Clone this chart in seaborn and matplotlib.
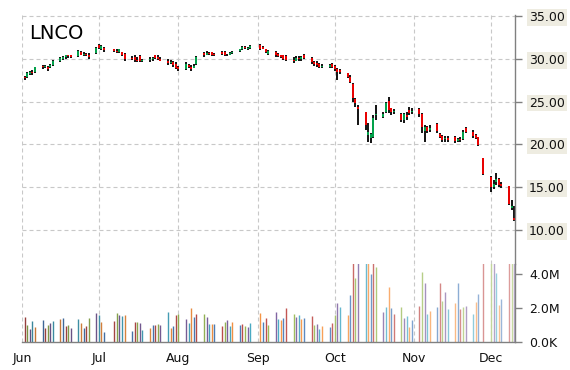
import numpy as np
import pandas as pd
import matplotlib
matplotlib.use('Agg')
import matplotlib.pyplot as plt
import matplotlib.dates as mdates
from matplotlib.ticker import FuncFormatter
from matplotlib.colors import to_rgb
import seaborn as sns

# --- data: LNCO daily prices, Jun - Dec 2014 ---
holidays = ['2014-07-04', '2014-09-01', '2014-11-27']
dates = pd.bdate_range('2014-06-02', '2014-12-10')
dates = dates[~dates.isin(pd.to_datetime(holidays))]

opens = [27.9, 27.9, 28.2, 28.5, 28.4, 29.2, 29.0, 29.1, 29.0, 29.3, 29.7, 30.0, 30.2, 30.4, 30.4, 30.3, 30.8, 30.5, 30.6, 30.4, 30.7,
         31.6, 31.1, 31.3, 31.1, 30.9, 30.8, 30.8, 30.6, 30.1, 30.2, 29.9, 30.3, 29.7, 29.9, 30.0, 30.4, 30.2, 30.0, 29.8, 29.5, 29.6, 29.4,
         29.0, 28.8, 29.3, 29.0, 28.9, 29.4, 30.7, 30.5, 30.7, 30.8, 30.6, 30.8, 30.8, 30.5, 30.5, 30.7, 30.9, 31.1, 31.4, 31.1, 31.3,
         31.6, 31.4, 31.1, 30.6, 30.8, 30.6, 30.4, 30.4, 30.3, 29.9, 29.8, 30.1, 30.0, 30.5, 30.1, 29.6, 29.5, 29.4, 29.0, 29.1, 29.4,
         29.2, 28.8, 28.7, 28.3, 27.9, 27.1, 25.3, 24.4, 23.8, 21.1, 20.8, 20.9, 23.4, 23.2, 23.8, 25.1, 24.2, 23.8, 23.6, 22.8, 23.4, 24.0, 23.8,
         24.1, 23.6, 21.6, 22.0, 21.7, 22.4, 21.2, 21.0, 20.6, 20.8, 20.9, 20.4, 20.6, 20.6, 21.9, 21.4, 21.1, 20.9, 18.4,
         16.2, 15.0, 15.6, 16.0, 15.4, 15.1, 12.6, 11.4]
highs = [28.0, 28.4, 28.6, 28.7, 29.1, 29.3, 29.3, 29.2, 29.4, 29.9, 30.2, 30.3, 30.5, 30.5, 30.4, 31.0, 30.9, 30.8, 30.7, 30.7, 31.4,
         31.7, 31.6, 31.4, 31.2, 31.1, 31.2, 30.8, 30.7, 30.3, 30.4, 30.2, 30.5, 30.0, 30.2, 30.2, 30.5, 30.4, 30.2, 30.0, 29.9, 29.8, 29.6,
         29.2, 29.6, 29.4, 29.3, 29.4, 30.3, 30.8, 30.9, 30.8, 30.8, 30.7, 30.9, 30.9, 30.6, 30.8, 30.9, 31.2, 31.5, 31.5, 31.4, 31.6,
         31.7, 31.5, 31.2, 31.0, 30.9, 30.7, 30.5, 30.5, 30.4, 30.2, 30.3, 30.3, 30.3, 30.6, 30.2, 29.7, 29.7, 29.5, 29.4, 29.4, 29.5,
         29.3, 28.9, 28.8, 28.3, 28.1, 27.2, 25.4, 24.6, 23.8, 22.5, 21.3, 23.4, 24.6, 23.8, 25.0, 25.5, 24.3, 24.1, 23.7, 23.7, 23.8, 24.4, 24.2,
         24.3, 23.7, 22.3, 22.2, 22.3, 22.5, 21.3, 21.1, 21.0, 21.0, 21.0, 20.7, 20.9, 21.7, 22.0, 21.7, 21.2, 20.9, 18.4,
         16.3, 15.8, 16.7, 16.1, 15.6, 15.1, 13.5, 12.8]
lows = [27.5, 27.8, 28.1, 28.1, 28.3, 28.8, 28.9, 28.6, 28.9, 29.2, 29.6, 29.9, 30.0, 30.1, 30.1, 30.2, 30.4, 30.3, 30.3, 30.0, 30.6,
        31.1, 31.0, 30.8, 30.8, 30.7, 30.7, 30.3, 29.7, 29.9, 29.6, 29.6, 29.6, 29.6, 29.6, 29.8, 30.0, 29.9, 29.7, 29.3, 29.4, 29.1, 28.8,
        28.6, 28.7, 28.9, 28.6, 28.9, 29.3, 30.2, 30.4, 30.5, 30.3, 30.3, 30.4, 30.3, 30.3, 30.5, 30.6, 30.8, 31.0, 31.1, 31.0, 31.1,
        31.0, 31.1, 30.7, 30.5, 30.2, 30.2, 30.1, 29.9, 29.7, 29.5, 29.7, 29.8, 29.8, 30.0, 29.4, 29.2, 29.1, 28.9, 28.9, 28.9, 28.9,
        28.6, 27.5, 28.2, 27.8, 27.2, 25.0, 24.4, 22.3, 21.7, 20.3, 20.2, 20.7, 22.9, 23.1, 23.7, 23.7, 23.4, 23.5, 22.6, 22.5, 22.9, 23.4, 23.5,
        23.2, 21.3, 20.3, 21.3, 21.5, 21.3, 20.7, 20.3, 20.3, 20.3, 20.2, 20.3, 20.3, 20.5, 21.3, 20.7, 20.6, 19.8, 16.4,
        14.4, 14.8, 15.3, 15.0, 14.9, 12.9, 12.3, 11.1]
closes = [27.7, 28.3, 28.5, 28.3, 29.0, 29.0, 29.2, 28.8, 29.3, 29.8, 30.1, 30.2, 30.4, 30.3, 30.2, 30.9, 30.5, 30.6, 30.4, 30.2, 31.3,
          31.3, 31.5, 31.0, 30.9, 30.8, 31.1, 30.5, 30.0, 30.0, 29.9, 29.8, 29.8, 29.9, 30.0, 30.1, 30.1, 30.0, 29.8, 29.5, 29.6, 29.3, 28.9,
          28.8, 29.4, 29.0, 28.8, 29.2, 30.2, 30.4, 30.7, 30.6, 30.5, 30.4, 30.6, 30.5, 30.4, 30.7, 30.8, 31.1, 31.4, 31.3, 31.3, 31.5,
          31.2, 31.2, 30.8, 30.9, 30.4, 30.3, 30.2, 30.0, 29.9, 29.7, 30.1, 30.0, 30.2, 30.1, 29.6, 29.4, 29.3, 29.0, 29.2, 29.3, 29.1,
          28.8, 28.5, 28.4, 27.9, 27.3, 25.4, 24.8, 24.1, 22.3, 21.4, 21.2, 23.1, 23.6, 23.6, 24.8, 24.0, 23.8, 23.9, 22.9, 23.5, 23.2, 23.7, 23.9,
          23.6, 22.0, 22.0, 21.6, 21.9, 21.6, 20.9, 20.5, 20.8, 20.5, 20.4, 20.6, 20.5, 21.5, 21.5, 21.0, 20.8, 19.9, 16.5,
          15.0, 15.4, 16.0, 15.3, 15.1, 13.0, 12.8, 11.2]
# volume in millions of shares
volumes = [1.49, 1.0, 0.76, 1.24, 0.9, 1.29, 0.8, 1.0, 1.14, 1.24, 1.35, 1.41, 0.94, 1.0, 0.82, 1.35, 1.12, 0.82, 0.94, 1.41, 1.71,
           1.59, 1.18, 0.59, 1.24, 1.71, 1.59, 1.53, 1.59, 0.65, 1.18, 1.18, 1.12, 0.71, 0.82, 1.0, 1.0, 1.06, 1.0, 1.76, 0.82, 0.94, 1.59,
           1.65, 1.35, 1.12, 2.0, 1.47, 1.65, 1.65, 1.47, 1.06, 1.06, 1.06, 0.94, 1.18, 1.29, 0.94, 1.18, 1.0, 1.06, 0.94, 0.88, 1.12,
           1.71, 1.18, 1.41, 1.0, 1.76, 1.35, 1.29, 1.39, 2.0, 1.65, 1.47, 1.59, 1.35, 1.41, 1.53, 1.0, 1.06, 0.76, 0.94, 0.88, 1.12,
           1.59, 2.29, 2.06, 1.59, 2.76, 5.2, 3.76, 5.0, 5.5, 6.0, 4.0, 5.1, 4.4, 1.76, 2.06, 3.24, 2.0, 1.65, 2.06, 1.41, 1.53, 0.88, 1.29,
           2.12, 4.12, 3.47, 1.65, 1.82, 2.06, 3.47, 2.41, 2.94, 1.94, 2.29, 3.47, 1.94, 2.06, 2.12, 1.65, 2.35, 2.84, 5.0,
           5.3, 5.0, 4.06, 2.18, 2.53, 5.5, 6.2, 5.8]

df = pd.DataFrame({'Date': dates, 'Open': opens, 'High': highs, 'Low': lows,
                   'Close': closes, 'Volume': volumes})

# --- styling ---
sns.set_style('white')
plt.rcParams['font.family'] = ['DejaVu Sans']
grid_kw = dict(color='#c8c8c8', linewidth=0.8, dashes=(3.6, 2.7))
palette = ['#C0504D', '#9BBB59', '#8064A2', '#4BACC6', '#F79646', '#4F81BD']

def shade(c, t):
    # darker early in the series, paler towards the end
    r = np.array(to_rgb(c))
    if t < 0.5:
        return tuple(r * (1 - (0.5 - t) * 0.45))
    return tuple(r + (1 - r) * min(1.0, (t - 0.5) * 1.5) * 0.6)

n = len(df)
vol_colors = [shade(palette[i % len(palette)], i / (n - 1)) for i in range(n)]

x = mdates.date2num(df['Date'])
up = df['Close'] >= df['Open']
body_colors = np.where(up, '#00B050', '#FF0000')

fig = plt.figure(figsize=(5.7, 3.7), dpi=100)
ax = fig.add_axes([22 / 570, 1 - 264 / 370, 493 / 570, 249 / 370])
axv = fig.add_axes([22 / 570, 1 - 342 / 370, 493 / 570, 78 / 370], sharex=ax)
for a in (ax, axv):
    a.set_facecolor('none')

# candlesticks
ax.vlines(x, df['Low'], df['High'], color='black', linewidth=1.3)
ax.vlines(x, df['Open'], df['Close'], colors=body_colors, linewidth=1.3)

# volume bars
axv.vlines(x, 0, df['Volume'], colors=vol_colors, linewidth=1.0)

ax.set_xlim(mdates.date2num(pd.Timestamp('2014-06-01')),
            mdates.date2num(pd.Timestamp('2014-12-10')) + 0.3)
ax.set_ylim(35 - 248 / 8.56, 35 + 1 / 8.56)
axv.set_ylim(0, 78 / 17)

# price axis
ax.yaxis.tick_right()
ax.set_yticks([10, 15, 20, 25, 30, 35])
ax.yaxis.set_major_formatter(FuncFormatter(lambda v, p: f'{v:.2f}'))
ax.tick_params(axis='y', direction='out', length=5, width=1, color='#808080',
               labelsize=9, pad=5, labelcolor='#111111')
ax.tick_params(axis='x', bottom=False, labelbottom=False)
ax.grid(True, axis='both', **grid_kw)

# volume axis
axv.yaxis.tick_right()
axv.set_yticks([0, 2, 4])
axv.yaxis.set_major_formatter(FuncFormatter(lambda v, p: '0.0K' if v == 0 else f'{v:.1f}M'))
axv.tick_params(axis='y', direction='out', length=5, width=1, color='#808080',
                labelsize=9, pad=5, labelcolor='#111111')
axv.xaxis.set_major_locator(mdates.MonthLocator())
axv.xaxis.set_major_formatter(mdates.DateFormatter('%b'))
axv.tick_params(axis='x', direction='out', length=5, width=1, color='#808080',
                labelsize=9, pad=2, labelcolor='#111111')
axv.grid(True, axis='x', **grid_kw)

for a in (ax, axv):
    for s in ('top', 'left', 'bottom', 'right'):
        a.spines[s].set_visible(False)
    a.spines['right'].set_visible(True)
    a.spines['right'].set_color('#808080')
    a.spines['right'].set_linewidth(1.0)
axv.spines['bottom'].set_visible(True)
axv.spines['bottom'].set_color('#808080')
axv.spines['bottom'].set_linewidth(1.0)

fig.text(29 / 570, 1 - 39 / 370, 'LNCO', fontsize=14, va='baseline', ha='left', color='black')

fig.canvas.draw()
for lbl in ax.get_yticklabels():
    lbl.set_bbox(dict(boxstyle='square,pad=0.15', fc='#EEECE1', ec='none'))

fig.savefig('out.png', dpi=100)
